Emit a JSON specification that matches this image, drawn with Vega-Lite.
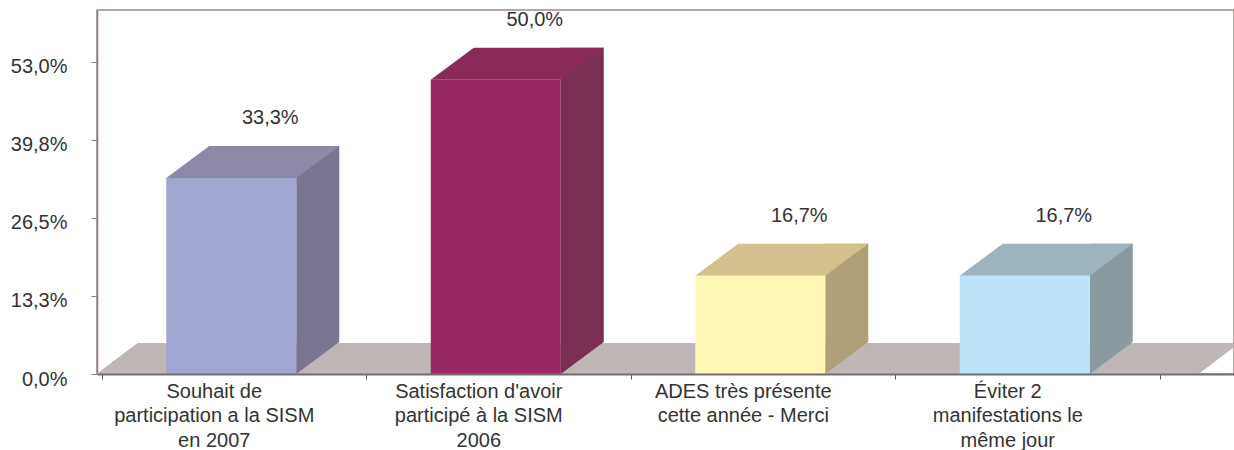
{
  "$schema": "https://vega.github.io/schema/vega-lite/v6.json",
  "width": 1137,
  "height": 364,
  "autosize": {"type": "none"},
  "padding": {"left": 97, "top": 10, "right": 0, "bottom": 76},
  "background": "white",
  "config": {
    "font": "Liberation Sans",
    "view": {"stroke": "#9c8c8a", "strokeWidth": 1.5},
    "locale": {"number": {"decimal": ",", "thousands": " ", "grouping": [3], "currency": ["", " €"]}}
  },
  "data": {
    "values": [
      {"q": "Souhait de|participation a la SISM|en 2007", "pct": 0.333},
      {"q": "Satisfaction d'avoir|participé à la SISM|2006", "pct": 0.5},
      {"q": "ADES très présente|cette année - Merci", "pct": 0.167},
      {"q": "Éviter 2|manifestations le|même jour", "pct": 0.167}
    ]
  },
  "encoding": {
    "x": {
      "field": "q",
      "type": "nominal",
      "sort": null,
      "scale": {"paddingInner": 0, "paddingOuter": 0.1493, "align": 0.057},
      "axis": {
        "title": null,
        "labelAngle": 0,
        "labelExpr": "split(datum.label, '|')",
        "labelFontSize": 20,
        "labelLineHeight": 24.5,
        "labelColor": "#333333",
        "labelOffset": -20,
        "labelPadding": 2,
        "labelBaseline": "top",
        "labelLimit": 0,
        "tickBand": "extent",
        "tickSize": 5,
        "tickColor": "#555555",
        "domainColor": "#707070",
        "domainWidth": 2,
        "zindex": 1
      }
    },
    "y": {
      "field": "pct",
      "type": "quantitative",
      "scale": {"domain": [0, 0.6183], "nice": false},
      "axis": {
        "title": null,
        "grid": false,
        "values": [0, 0.1325, 0.265, 0.3975, 0.53],
        "labelExpr": "format(datum.value + 1e-9, '.1%')",
        "labelFontSize": 20,
        "labelColor": "#333333",
        "labelPadding": 24,
        "labelOffset": 5,
        "tickSize": 6,
        "tickColor": "#8c7c7a",
        "domainColor": "#8c7c7a",
        "domainWidth": 1.5
      }
    }
  },
  "layer": [
    {
      "mark": {"type": "point", "shape": "M-136.7,0 L964.3,0 L1005.3,-31 L-95.7,-31 Z", "size": 4, "filled": true, "fill": "#BFB7B5", "opacity": 1, "strokeWidth": 0, "clip": true},
      "encoding": {
        "x": {"datum": "Souhait de|participation a la SISM|en 2007"},
        "y": {"datum": 0}
      }
    },
    {
      "mark": {"type": "bar", "width": 43, "xOffset": 84, "yOffset": -32, "y2Offset": -32},
      "encoding": {
        "y2": {"datum": 0},
        "fill": {"field": "q", "type": "nominal", "sort": null, "legend": null,
          "scale": {"range": ["#7B768F", "#7A2F53", "#B0A078", "#8B9AA0"]}}
      }
    },
    {
      "mark": {"type": "point", "shape": "M62.5,0 L62.5,-32 L105.5,-32 Z", "size": 4, "filled": true, "opacity": 1, "strokeWidth": 0},
      "encoding": {
        "y": {"datum": 0},
        "fill": {"field": "q", "type": "nominal", "sort": null, "legend": null,
          "scale": {"range": ["#7B768F", "#7A2F53", "#B0A078", "#8B9AA0"]}}
      }
    },
    {
      "mark": {"type": "point", "shape": "M-67.5,0 L62.5,0 L105.5,-32 L-24.5,-32 Z", "size": 4, "filled": true, "opacity": 1, "strokeWidth": 0},
      "encoding": {
        "fill": {"field": "q", "type": "nominal", "sort": null, "legend": null,
          "scale": {"range": ["#8C8AA8", "#892A59", "#D2C18D", "#9DB4BE"]}}
      }
    },
    {
      "mark": {"type": "bar", "width": 130, "xOffset": -2.5},
      "encoding": {
        "fill": {"field": "q", "type": "nominal", "sort": null, "legend": null,
          "scale": {"range": ["#A0A5D2", "#992962", "#FFF8B4", "#BCE4F8"]}}
      }
    },
    {
      "mark": {"type": "text", "dx": 36.5, "dy": -54, "baseline": "alphabetic", "align": "center", "fontSize": 20, "fill": "#333333"},
      "encoding": {
        "text": {"field": "pct", "type": "quantitative", "format": ".1%"}
      }
    }
  ],
  "resolve": {"scale": {"fill": "independent"}}
}
